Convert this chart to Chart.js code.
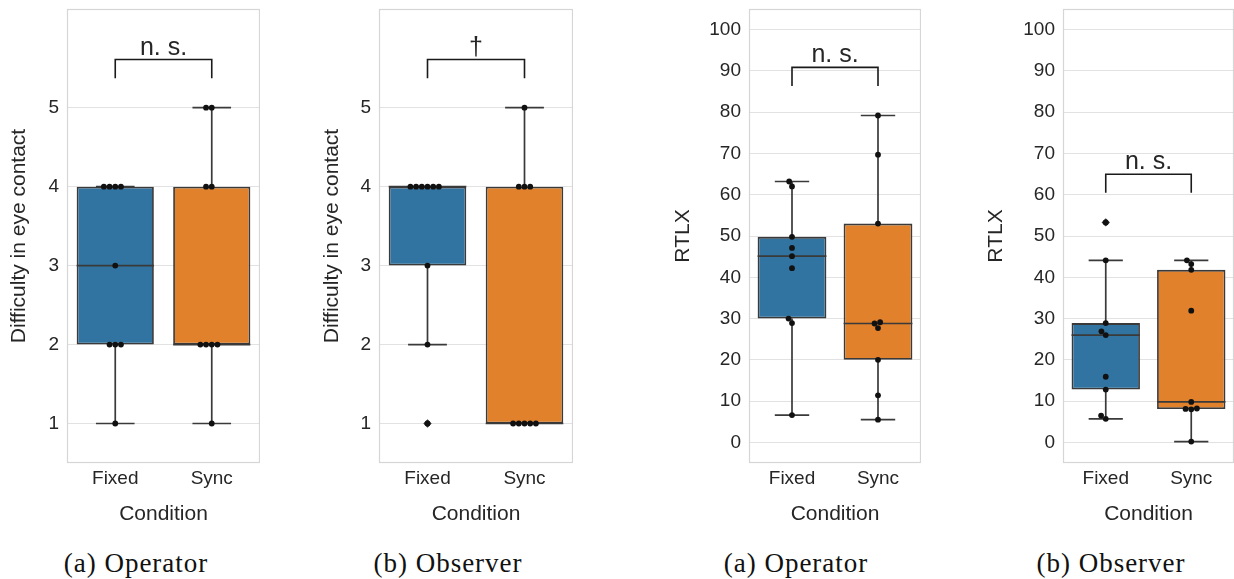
<!DOCTYPE html>
<html>
<head>
<meta charset="utf-8">
<script src="https://cdn.jsdelivr.net/npm/chart.js@4.4.0/dist/chart.umd.min.js"></script>
<style>
html,body{margin:0;padding:0;background:#fff;}
body{width:1234px;height:579px;overflow:hidden;position:relative;}
canvas{position:absolute;top:0;}
.cap{position:absolute;top:548px;font-family:"Liberation Serif","Times New Roman",serif;font-size:27px;letter-spacing:1px;color:#111;white-space:nowrap;transform:translateX(-50%);line-height:30px;}
</style>
</head>
<body>
<canvas id="c0" width="260" height="540" style="left:0px;width:260px;height:540px"></canvas>
<canvas id="c1" width="260" height="540" style="left:313px;width:260px;height:540px"></canvas>
<canvas id="c2" width="261" height="540" style="left:660px;width:261px;height:540px"></canvas>
<canvas id="c3" width="261" height="540" style="left:973px;width:261px;height:540px"></canvas>
<div class="cap" id="cap0" style="left:136px"></div>
<div class="cap" id="cap1" style="left:448px"></div>
<div class="cap" id="cap2" style="left:796px"></div>
<div class="cap" id="cap3" style="left:1111px"></div>
<script>
// ---------------- data ----------------
const categories = ["Fixed", "Sync"];
const diffTicks = [1, 2, 3, 4, 5];
const rtlxTicks = [0, 10, 20, 30, 40, 50, 60, 70, 80, 90, 100];

// Difficulty in eye contact (Likert)
const opDiffFixed = [1, 2, 2, 2, 3, 4, 4, 4, 4];
const opDiffSync  = [1, 2, 2, 2, 2, 4, 4, 5, 5];
const obDiffFixed = [1, 2, 3, 4, 4, 4, 4, 4, 4];
const obDiffSync  = [1, 1, 1, 1, 1, 4, 4, 4, 5];

// RTLX
const opRtlxFixed = [6.6, 28.9, 30.0, 42.2, 45.1, 47.1, 49.8, 62.0, 63.2];
const opRtlxSync  = [5.5, 11.4, 20.0, 27.7, 28.8, 29.1, 53.0, 69.7, 79.2];
const obRtlxFixed = [5.7, 6.5, 12.8, 15.9, 26.0, 26.9, 28.9, 44.1, 53.3];
const obRtlxSync  = [0.2, 8.0, 8.1, 8.2, 9.8, 31.9, 41.8, 43.2, 44.1];

const significance = ["n. s.", "\u2020", "n. s.", "n. s."];
const captions = ["(a) Operator", "(b) Observer", "(a) Operator", "(b) Observer"];
const yTitles = ["Difficulty in eye contact", "Difficulty in eye contact", "RTLX", "RTLX"];
const xTitle = "Condition";

// ---------------- style ----------------
const boxColors = ["#3274a1", "#e1812c"];
const edge = "#3a3a3a";
const dotColor = "#111111";
const textColor = "#262626";
const gridColor = "#e2e2e2";
const frameColor = "#d6d6d6";
const FONT = '"Liberation Sans", Arial, Helvetica, sans-serif';
Chart.defaults.font.family = FONT;
Chart.defaults.color = textColor;

const BOX_W = 0.8;          // box width in category units
const DOT_R = 2.9;          // swarm dot radius (px)
const DOT_D = 5.7;          // swarm spacing (px)

// ---------------- helpers ----------------
function quantile(s, p) {
  const pos = (s.length - 1) * p;
  const lo = Math.floor(pos), hi = Math.ceil(pos);
  return s[lo] + (s[hi] - s[lo]) * (pos - lo);
}
function boxStats(vals) {
  const s = [...vals].sort((a, b) => a - b);
  const q1 = quantile(s, 0.25), med = quantile(s, 0.5), q3 = quantile(s, 0.75);
  const iqr = q3 - q1;
  const loLim = q1 - 1.5 * iqr, hiLim = q3 + 1.5 * iqr;
  const inside = s.filter(v => v >= loLim && v <= hiLim);
  return { q1, med, q3, lo: inside[0], hi: inside[inside.length - 1],
           fliers: s.filter(v => v < loLim || v > hiLim) };
}
function swarmOffsets(pixY, D) {
  const idx = pixY.map((_, i) => i).sort((a, b) => pixY[b] - pixY[a]);
  const placed = [];
  const out = new Array(pixY.length).fill(0);
  for (const i of idx) {
    const y = pixY[i];
    const nb = placed.filter(p => Math.abs(p.y - y) < D);
    const cands = [0];
    nb.forEach(p => {
      const dx = Math.sqrt(Math.max(D * D - (p.y - y) * (p.y - y), 0));
      cands.push(p.x - dx, p.x + dx);
    });
    cands.sort((a, b) => (Math.abs(a) - Math.abs(b)) || (a - b));
    let x = 0;
    for (const c of cands) {
      if (nb.every(p => (p.x - c) * (p.x - c) + (p.y - y) * (p.y - y) >= D * D - 1e-3)) { x = c; break; }
    }
    placed.push({ x, y });
    out[i] = x;
  }
  return out;
}

const panels = [
  { id: "c0", axisW: 67, titlePad: 6.7,  yMin: 0.5, yMax: 6.25, ticks: diffTicks, groups: [opDiffFixed, opDiffSync] },
  { id: "c1", axisW: 66, titlePad: 6.7,  yMin: 0.5, yMax: 6.25, ticks: diffTicks, groups: [obDiffFixed, obDiffSync] },
  { id: "c2", axisW: 89, titlePad: 10.2, yMin: -5,  yMax: 105,  ticks: rtlxTicks, groups: [opRtlxFixed, opRtlxSync] },
  { id: "c3", axisW: 90, titlePad: 10.2, yMin: -5,  yMax: 105,  ticks: rtlxTicks, groups: [obRtlxFixed, obRtlxSync] }
];

panels.forEach((p, pi) => {
  document.getElementById("cap" + pi).textContent = captions[pi];
  const stats = p.groups.map(boxStats);
  const range = p.yMax - p.yMin;
  const maxData = Math.max(...p.groups.flat());
  const brBottom = maxData + 0.065 * range;
  const brTop = brBottom + 0.041 * range;

  const whisk = [];
  stats.forEach((s, i) => {
    const gap = { x: i, y: null };
    const ch = BOX_W / 4, bh = BOX_W / 2;
    whisk.push(
      { x: i, y: s.lo }, { x: i, y: s.q1 }, gap,
      { x: i, y: s.q3 }, { x: i, y: s.hi }, gap,
      { x: i - ch, y: s.lo }, { x: i + ch, y: s.lo }, gap,
      { x: i - ch, y: s.hi }, { x: i + ch, y: s.hi }, gap,
      { x: i - bh, y: s.med }, { x: i + bh, y: s.med }, gap
    );
  });
  const fliers = [];
  stats.forEach((s, i) => s.fliers.forEach(v => fliers.push({ x: i, y: v })));
  const dots = [];
  p.groups.forEach((vals, i) => vals.forEach(v => dots.push({ x: i, y: v })));

  const overlay = {
    id: "overlay" + pi,
    beforeDatasetsDraw(chart) {
      const { ctx, chartArea: a } = chart;
      ctx.save();
      ctx.strokeStyle = frameColor;
      ctx.lineWidth = 1.2;
      ctx.strokeRect(Math.round(a.left) + 0.5, Math.round(a.top) + 0.5,
                     Math.round(a.right - a.left) - 1, Math.round(a.bottom - a.top) - 1);
      ctx.restore();
    },
    afterDatasetsDraw(chart) {
      const { ctx } = chart;
      const xs = chart.scales.x, ys = chart.scales.y;
      ctx.save();
      ctx.fillStyle = textColor;
      ctx.font = "25px " + FONT;
      ctx.textAlign = "center";
      ctx.textBaseline = "alphabetic";
      ctx.fillText(significance[pi], xs.getPixelForValue(0.5), ys.getPixelForValue(brTop) - 5);
      ctx.restore();
    }
  };

  const chart = new Chart(document.getElementById(p.id), {
    type: "scatter",
    data: {
      datasets: [
        { type: "bar", data: stats.map((s, i) => ({ x: i, y: [s.q1, s.q3] })),
          backgroundColor: boxColors, borderColor: edge, borderWidth: 1.8, borderSkipped: false,
          barPercentage: BOX_W, categoryPercentage: 1, order: 4 },
        { type: "line", data: whisk, borderColor: edge, borderWidth: 1.7, pointRadius: 0,
          spanGaps: false, tension: 0, fill: false, order: 3 },
        { type: "scatter", data: fliers, pointStyle: "rectRot", pointRadius: 4.2,
          backgroundColor: edge, borderWidth: 0, order: 2 },
        { type: "line", data: [{ x: 0, y: brBottom }, { x: 0, y: brTop }, { x: 1, y: brTop }, { x: 1, y: brBottom }],
          borderColor: "#1a1a1a", borderWidth: 1.6, pointRadius: 0, tension: 0, fill: false, order: 1, clip: false },
        { type: "scatter", data: dots, pointRadius: DOT_R, backgroundColor: dotColor,
          borderWidth: 0, order: 0 }
      ]
    },
    options: {
      responsive: false,
      animation: false,
      events: [],
      layout: { autoPadding: false, padding: { top: 9, left: 0, right: 0, bottom: 0 } },
      plugins: { legend: { display: false }, tooltip: { enabled: false } },
      scales: {
        x: {
          type: "linear", min: -0.5, max: 1.5, offset: false,
          grid: { display: false, drawTicks: false },
          border: { display: false },
          afterBuildTicks: s => { s.ticks = categories.map((c, i) => ({ value: i })); },
          afterFit: s => { s.height = 77; s.paddingLeft = 0; s.paddingRight = 0; },
          ticks: { font: { size: 19 }, color: textColor, padding: 4, maxRotation: 0, autoSkip: false,
                   callback: v => categories[v] },
          title: { display: true, text: xTitle, font: { size: 21 }, color: textColor,
                   padding: { top: 0, bottom: 13.4 } }
        },
        y: {
          type: "linear", min: p.yMin, max: p.yMax, beginAtZero: false,
          grid: { color: gridColor, lineWidth: 1, drawTicks: false },
          border: { display: false },
          afterBuildTicks: s => { s.ticks = p.ticks.map(v => ({ value: v })); },
          afterFit: s => { s.width = p.axisW; s.paddingTop = 0; s.paddingBottom = 0; },
          ticks: { font: { size: 19 }, color: textColor, padding: 8, autoSkip: false },
          title: { display: true, text: yTitles[pi], font: { size: 21 }, color: textColor,
                   padding: { top: p.titlePad, bottom: 0 } }
        }
      }
    },
    plugins: [overlay]
  });

  // swarm layout computed from the data through the chart's scales
  const xs = chart.scales.x, ys = chart.scales.y;
  const pxPerX = xs.getPixelForValue(1) - xs.getPixelForValue(0);
  const newDots = [];
  p.groups.forEach((vals, i) => {
    const offs = swarmOffsets(vals.map(v => ys.getPixelForValue(v)), DOT_D);
    vals.forEach((v, k) => newDots.push({ x: i + offs[k] / pxPerX, y: v }));
  });
  chart.data.datasets[4].data = newDots;
  chart.update("none");
});
</script>
</body>
</html>
